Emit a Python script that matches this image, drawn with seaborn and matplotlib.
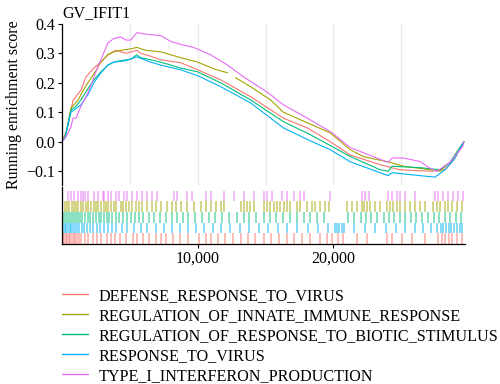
import numpy as np
import pandas as pd
import seaborn as sns
import matplotlib
matplotlib.use("Agg")
import matplotlib.pyplot as plt
from matplotlib.lines import Line2D

# ---------------- data ----------------
title = "GV_IFIT1"
sets = ["DEFENSE_RESPONSE_TO_VIRUS",
        "REGULATION_OF_INNATE_IMMUNE_RESPONSE",
        "REGULATION_OF_RESPONSE_TO_BIOTIC_STIMULUS",
        "RESPONSE_TO_VIRUS",
        "TYPE_I_INTERFERON_PRODUCTION"]
colors = ["#F8766D", "#A3A500", "#00BF7D", "#00B0F6", "#E76BF3"]
# rug row (from bottom) for each set
rug_row = [0, 3, 2, 1, 4]
n_genes = 29700

# running enrichment score curves (rank, score)
defense_rank = [0, 368, 809, 1397, 1764, 2352, 2867, 3381, 3969, 4704, 5513, 5807, 6542, 7277,
                8747, 9996, 11687, 13892, 16317, 18081, 19772, 21242, 23447, 24917, 27122,
                28224, 28900, 29620]
defense_es = [0, 0.04, 0.14, 0.175, 0.22, 0.25, 0.27, 0.295, 0.31, 0.30, 0.31, 0.30, 0.29, 0.278,
              0.268, 0.244, 0.21, 0.153, 0.08, 0.047, 0.0, -0.045, -0.078, -0.095, -0.10,
              -0.095, -0.06, 0.0]

innate_rank = [0, 294, 662, 1176, 1397, 1764, 2352, 2867, 3381, 3822, 4337, 5072, 5513, 6174,
               7277, 8747, 9996, 11319, 12201, 12789, 13892, 15362, 16317, 19772, 21242,
               22197, 24182, 25137, 27122, 27857, 28592, 29620]
innate_es = [0, 0.03, 0.115, 0.14, 0.16, 0.19, 0.23, 0.27, 0.295, 0.305, 0.31, 0.315, 0.32, 0.31,
             0.305, 0.285, 0.27, 0.245, 0.234, 0.217, 0.187, 0.142, 0.10, 0.03, -0.027,
             -0.05, -0.07, -0.083, -0.095, -0.10, -0.07, 0.0]
innate_segment = [0] * 19 + [1] * 13

biotic_rank = [0, 220, 662, 1029, 1397, 1911, 2352, 2867, 3381, 3822, 4337, 5072, 5513, 5807,
               6542, 7277, 8747, 9996, 11687, 13892, 16317, 18302, 19772, 21242, 23447,
               24035, 24329, 26387, 27857, 28592, 29620]
biotic_es = [0, 0.013, 0.108, 0.12, 0.142, 0.18, 0.21, 0.237, 0.26, 0.27, 0.275, 0.28, 0.295, 0.285,
             0.278, 0.27, 0.25, 0.237, 0.20, 0.142, 0.068, 0.024, -0.013, -0.05, -0.095,
             -0.10, -0.083, -0.088, -0.095, -0.07, 0.0]

virus_rank = [0, 220, 662, 1397, 1911, 2352, 2867, 3381, 3822, 4704, 5513, 6542, 7277, 8747,
              9996, 11687, 13892, 16317, 18302, 19772, 21242, 24035, 24329, 26387, 27489,
              28224, 28900, 29620]
virus_es = [0, 0.013, 0.10, 0.125, 0.16, 0.20, 0.234, 0.26, 0.27, 0.275, 0.288, 0.27, 0.26, 0.244,
            0.224, 0.187, 0.132, 0.047, 0.003, -0.027, -0.068, -0.115, -0.105, -0.115, -0.12,
            -0.095, -0.06, 0.0]

ifn_rank = [0, 294, 662, 809, 1029, 1397, 1911, 2205, 2646, 2867, 3381, 3822, 4337, 4704, 5072,
            5513, 6174, 7277, 8012, 8747, 9702, 10952, 12201, 13377, 14627, 15362, 16317,
            18081, 19919, 21242, 22197, 24035, 24329, 25137, 26387, 27122, 27636, 28592,
            29547, 29620]
ifn_es = [0, 0.017, 0.05, 0.08, 0.08, 0.12, 0.166, 0.20, 0.255, 0.278, 0.335, 0.35, 0.355, 0.345,
          0.345, 0.37, 0.365, 0.36, 0.34, 0.33, 0.32, 0.295, 0.26, 0.22, 0.183, 0.16, 0.125,
          0.08, 0.03, -0.02, -0.037, -0.07, -0.055, -0.055, -0.067, -0.09, -0.10, -0.07,
          -0.015, 0.0]

# gene-set hit positions (ranks)
defense_hits = [50, 150, 260, 380, 500, 620, 740, 860, 980, 1100, 1250, 1400, 1700, 1950, 2300,
                2600, 2900, 3300, 3600, 3900, 4300, 4700, 5200, 5500, 6000, 6400, 6900, 7300,
                7700, 8200, 8700, 9300, 10100, 10600, 11000, 11500, 12000, 12600, 13200, 13700,
                14200, 14900, 15400, 16000, 16600, 17100, 17700, 18300, 19000, 19550, 19920,
                20360, 20730, 21760, 22490, 23960, 24330, 25060, 25800, 26750, 27710, 28000,
                28220, 28500, 28740, 29100, 29470]
innate_hits = [220, 367, 540, 710, 860, 1030, 1200, 1400, 1570, 1760, 1930, 2130, 2330, 2500,
               2670, 2870, 3060, 3230, 3400, 3600, 3800, 3970, 4340, 4530, 4700, 4950, 5190,
               5440, 5680, 5930, 6300, 6660, 6910, 7280, 7770, 8130, 8380, 8750, 9240, 9730,
               10220, 10590, 10950, 11320, 11690, 11930, 13160, 13400, 13650, 13890, 14140,
               14870, 15120, 15360, 15610, 15850, 16100, 16340, 16590, 16830, 17320, 17570,
               18060, 18420, 18670, 19040, 19400, 19650, 21000, 21360, 21730, 22100, 22220,
               22470, 22710, 23080, 23450, 23940, 24180, 24430, 24670, 24920, 25280, 25650,
               26020, 26390, 26750, 27370, 27610, 27860, 28220, 28470, 28710, 29080, 29450]
biotic_hits = [150, 300, 450, 600, 760, 900, 1050, 1200, 1350, 1500, 1700, 1900, 2100, 2300,
               2500, 2700, 2900, 3100, 3300, 3500, 3700, 3950, 4200, 4500, 4800, 5100, 5400,
               5700, 6000, 6400, 6800, 7200, 7700, 8100, 8500, 8900, 9300, 9800, 10300, 10800,
               11300, 11800, 12300, 12900, 13400, 13800, 14300, 14900, 15300, 15800, 16300,
               16800, 17300, 17800, 18300, 18800, 19300, 21100, 21500, 22000, 22400, 22800,
               23200, 23700, 24100, 24500, 24900, 25300, 25700, 26100, 26500, 27000, 27400,
               27800, 28200, 28600, 29000, 29400]
virus_hits = [80, 200, 320, 440, 560, 680, 800, 950, 1100, 1250, 1450, 1650, 1850, 2050, 2300,
              2550, 2800, 3100, 3400, 3700, 4000, 4400, 4800, 5300, 5800, 6300, 6900, 7500,
              8100, 8700, 9300, 9900, 10500, 11100, 11700, 12400, 13100, 13800, 14500, 15200,
              15900, 16600, 17300, 18100, 18900, 19600, 20150, 20300, 20450, 20600, 20750,
              21500, 22300, 23100, 23900, 24600, 25300, 26000, 26600, 27200, 27600, 27900,
              28100, 28300, 28500, 28700, 28900, 29100, 29300, 29500]
ifn_hits = [417, 662, 907, 1201, 1397, 1544, 1691, 1936, 2377, 2622, 2989, 3112, 3357, 3602,
            3970, 4215, 4582, 4827, 5194, 5562, 5929, 6297, 6664, 7032, 8257, 8502, 9237, 9604,
            10584, 10952, 11932, 12667, 13402, 14137, 14872, 15117, 15484, 16219, 16587, 17077,
            17567, 17812, 19772, 22099, 22344, 22589, 24059, 24304, 24672, 24917, 25284,
            26019, 27489, 27734, 28102, 28469, 28837, 29204, 29572]

# ---------------- build table ----------------
frames = []
curves = [(defense_rank, defense_es, [0] * len(defense_rank)),
          (innate_rank, innate_es, innate_segment),
          (biotic_rank, biotic_es, [0] * len(biotic_rank)),
          (virus_rank, virus_es, [0] * len(virus_rank)),
          (ifn_rank, ifn_es, [0] * len(ifn_rank))]
for name, (r, e, seg) in zip(sets, curves):
    frames.append(pd.DataFrame({"rank": r, "es": e, "set": name,
                                "unit": [f"{name}_{s}" for s in seg]}))
df = pd.concat(frames, ignore_index=True)
hits = [defense_hits, innate_hits, biotic_hits, virus_hits, ifn_hits]

# ---------------- draw ----------------
sns.set_theme(style="white")
plt.rcParams["font.family"] = ["Liberation Serif", "DejaVu Serif"]
plt.rcParams["text.color"] = "black"
FS = 11.5
LFS = 11.6

fig = plt.figure(figsize=(5.0, 3.84), dpi=100)
ax1 = fig.add_axes([0.124, 0.518, 0.806, 0.42])
ax2 = fig.add_axes([0.124, 0.365, 0.806, 0.147])

palette = dict(zip(sets, colors))
sns.lineplot(data=df, x="rank", y="es", hue="set", units="unit", estimator=None,
             palette=palette, hue_order=sets, linewidth=0.8, legend=False, ax=ax1)

for gx in [5000, 10000, 15000, 20000, 25000]:
    ax1.axvline(gx, color="#EBEBEB", lw=1.0, zorder=0)
ax1.set_xlim(0, n_genes)
ax1.set_ylim(-0.147, 0.40)
ax1.set_yticks([-0.1, 0.0, 0.1, 0.2, 0.3, 0.4])
ax1.set_yticklabels(["\u22120.1", "0.0", "0.1", "0.2", "0.3", "0.4"])
ax1.set_xticks([])
ax1.set_xlabel("")
ax1.set_ylabel("Running enrichment score", fontsize=FS, color="black", labelpad=3)
for s in ["top", "right", "bottom"]:
    ax1.spines[s].set_visible(False)
ax1.spines["left"].set_color("black")
ax1.spines["left"].set_linewidth(0.9)
ax1.tick_params(axis="y", left=True, length=3, width=0.8, colors="black", labelsize=FS, pad=2)
ax1.set_title(title, loc="left", fontsize=FS, pad=5, x=0.0)

# rug panel: pink on top, red at bottom
for h, c, row in zip(hits, colors, rug_row):
    ax2.vlines(h, row, row + 1, colors=c, linewidth=1.1, alpha=0.6)
ax2.set_xlim(0, n_genes)
ax2.set_ylim(0, 5.3)
ax2.set_yticks([])
ax2.set_xticks([10000, 20000])
ax2.set_xticklabels(["10,000", "20,000"])
for s in ["top", "right"]:
    ax2.spines[s].set_visible(False)
for s in ["left", "bottom"]:
    ax2.spines[s].set_color("black")
    ax2.spines[s].set_linewidth(0.9)
ax2.tick_params(axis="x", bottom=True, length=3, width=0.8, colors="black", labelsize=FS, pad=2)
ax2.set_xlabel("")

handles = [Line2D([0], [0], color=c, lw=1.0) for c in colors]
fig.legend(handles, sets, loc="upper left", bbox_to_anchor=(0.102, 0.28), frameon=False,
           fontsize=LFS, handlelength=1.6, handletextpad=0.65, labelspacing=0.25,
           borderpad=0.2)

fig.savefig("out.png", dpi=100)
